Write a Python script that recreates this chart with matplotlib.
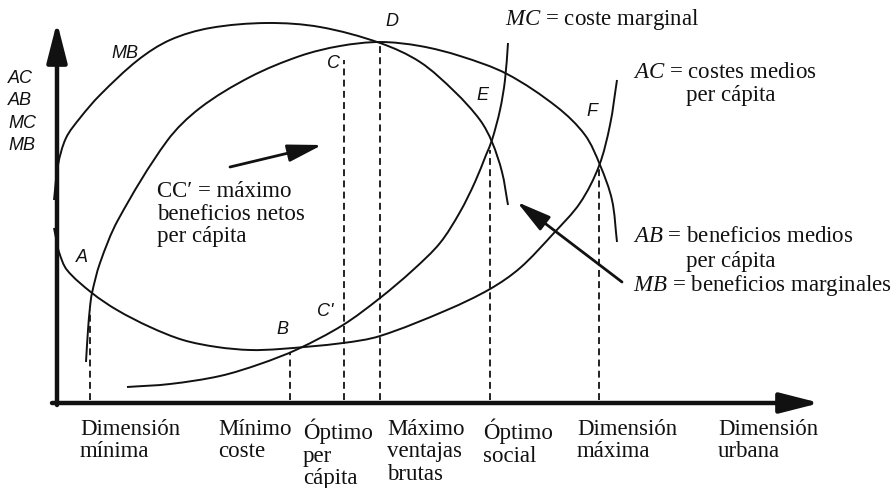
import numpy as np
import matplotlib
matplotlib.use("Agg")
import matplotlib.pyplot as plt
from matplotlib.path import Path
from matplotlib.patches import PathPatch

# curves (x = urban size, y = cost/benefit), origin at the axes corner
MB_X = [0, 4, 12, 26, 46, 84, 116, 156, 213, 266, 326, 366, 401, 426, 438, 448, 454]
MB_Y = [202, 237, 264, 284, 307, 342, 362, 374, 379, 375, 359, 340, 310, 282, 260, 230, 197]

AB_X = [32, 34, 36, 38, 46, 64, 113, 146, 196, 246, 286, 326, 366, 406, 453, 503, 531, 546, 558, 563]
AB_Y = [40, 72, 95, 109, 139, 182, 261, 294, 325, 346, 356, 360, 356, 346, 328, 295, 267, 237, 202, 160]

AC_X = [0, 2, 5, 13, 38, 63, 96, 129, 163, 196, 226, 289, 326, 393, 436, 466, 499, 526, 545, 556, 563]
AC_Y = [174, 164, 150, 132, 109, 92, 75, 62, 55, 52, 53, 59, 66, 92, 113, 134, 168, 199, 236, 277, 322]

MC_X = [73, 116, 166, 206, 244, 289, 326, 359, 386, 406, 421, 432, 438, 446, 451, 454]
MC_Y = [15, 18, 26, 38, 53, 77, 104, 132, 159, 190, 220, 247, 262, 292, 322, 359]

# key urban sizes (dashed guides) and their labels
DIM_X = [36, 236, 290, 326, 436, 545]
DIM_TOP = [92, 50, 342, 357, 252, 234]
DIM_LABELS = ["Dimensión\nmínima", "Mínimo\ncoste", "Óptimo\nper\ncápita",
              "Máximo\nventajas\nbrutas", "Óptimo\nsocial", "Dimensión\nmáxima",
              "Dimensión\nurbana"]
LABEL_X = [26, 164, 249, 333, 429, 523, 664]

POINT_NAMES = ["A", "B", "C'", "C", "D", "E", "F", "MB"]
POINT_POS = [(28, 145), (228, 72), (271, 90), (279, 339), (338, 380), (428, 307), (538, 290), (71, 349)]

SERIF = "Liberation Serif"
SANS = "Liberation Sans"
plt.rcParams["mathtext.fontset"] = "custom"
plt.rcParams["mathtext.rm"] = SERIF
plt.rcParams["mathtext.it"] = SERIF + ":italic"


def smooth_path(xs, ys):
    # cubic spline through the read points (chord-length parametrised), as Bezier segments
    pts = np.column_stack([xs, ys]).astype(float)
    seg = np.hypot(*np.diff(pts, axis=0).T)
    t = np.concatenate([[0], np.cumsum(seg)])
    tang = np.zeros_like(pts)
    tang[1:-1] = (pts[2:] - pts[:-2]) / (t[2:] - t[:-2])[:, None]
    tang[0] = (pts[1] - pts[0]) / seg[0]
    tang[-1] = (pts[-1] - pts[-2]) / seg[-1]
    verts = [pts[0]]
    codes = [Path.MOVETO]
    for i in range(len(pts) - 1):
        h = seg[i] / 3
        verts += [pts[i] + tang[i] * h, pts[i + 1] - tang[i + 1] * h, pts[i + 1]]
        codes += [Path.CURVE4] * 3
    return Path(verts, codes)


fig = plt.figure(figsize=(8.96, 4.88), dpi=100)
ax = fig.add_axes([0, 0, 1, 1])
ax.set_xlim(-54, 842)
ax.set_ylim(-86, 402)
ax.axis("off")

for xs, ys in [(MB_X, MB_Y), (AB_X, AB_Y), (AC_X, AC_Y), (MC_X, MC_Y)]:
    ax.add_patch(PathPatch(smooth_path(xs, ys), fill=False, lw=1.4, color="#111"))

ax.vlines(DIM_X, 2, DIM_TOP, colors="#111", lw=1.3, linestyles=(0, (3.8, 2.4)))

# axes with arrow heads
arrow = dict(arrowstyle="-|>,head_length=1.1,head_width=0.28", lw=3.2, color="#111",
             mutation_scale=22, shrinkA=0, shrinkB=0)
ax.annotate("", xy=(3, 380), xytext=(3, -3), arrowprops=arrow)
ax.annotate("", xy=(766, -1), xytext=(-2, -1), arrowprops=arrow)

# pointer arrows
small = dict(arrowstyle="-|>,head_length=1.5,head_width=0.38", lw=2, color="#111",
             mutation_scale=14, shrinkA=0, shrinkB=0)
ax.annotate("", xy=(268, 257), xytext=(176, 235), arrowprops=small)
ax.annotate("", xy=(463, 200), xytext=(568, 120), arrowprops=small)

for name, (px, py) in zip(POINT_NAMES, POINT_POS):
    ax.text(px, py, name, ha="center", va="center", fontsize=13,
            family=SANS, style="italic", color="#111")

ax.text(-46, 290, "AC\nAB\nMC\nMB", ha="left", va="center", fontsize=13,
        family=SANS, style="italic", linespacing=1.42, color="#111")

ax.text(103, 188, "CC′ = máximo\nbeneficios netos\nper cápita", ha="left", va="center",
        fontsize=16.5, family=SERIF, linespacing=1.1, color="#111")

txt = dict(ha="left", va="center", fontsize=16.5, family=SERIF, color="#111")
ax.text(451, 383, r"$MC$ = coste marginal", **txt)
ax.text(579, 330, r"$AC$ = costes medios", **txt)
ax.text(632, 307, "per cápita", **txt)
ax.text(579, 165, r"$AB$ = beneficios medios", **txt)
ax.text(632, 140, "per cápita", **txt)
ax.text(579, 117, r"$MB$ = beneficios marginales", **txt)

for lx, lab in zip(LABEL_X, DIM_LABELS):
    ax.text(lx, -17, lab, ha="left", va="top", fontsize=16.5, family=SERIF,
            linespacing=1.08, color="#111")

fig.savefig("out.png", dpi=100)
